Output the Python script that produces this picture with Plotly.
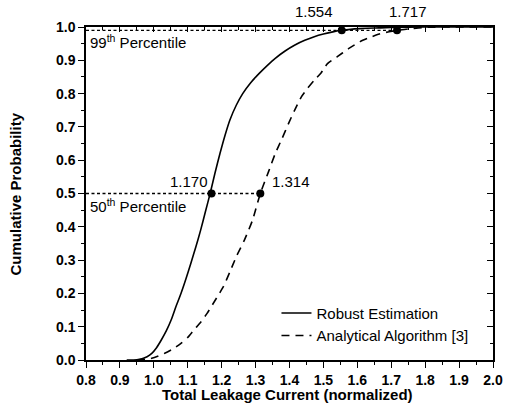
import plotly.graph_objects as go

# Robust Estimation (solid) CDF points
robust_x = [0.92, 0.95, 0.965, 0.98, 0.994, 1.008, 1.022, 1.037, 1.051, 1.065, 1.080, 1.095, 1.109, 1.124, 1.138, 1.152, 1.166,
            1.18, 1.195, 1.21, 1.224, 1.243, 1.262, 1.285, 1.310, 1.335, 1.358, 1.387, 1.416, 1.445, 1.473, 1.50, 1.531, 1.554,
            1.58, 1.608, 1.65, 1.70, 1.80, 1.90, 2.0]
robust_y = [0.0, 0.001, 0.004, 0.010, 0.020, 0.037, 0.060, 0.088, 0.120, 0.160, 0.200, 0.245, 0.290, 0.340, 0.390, 0.445, 0.50,
            0.56, 0.62, 0.675, 0.72, 0.765, 0.80, 0.832, 0.86, 0.885, 0.906, 0.928, 0.946, 0.960, 0.971, 0.979, 0.986, 0.990,
            0.993, 0.995, 0.997, 0.999, 1.0, 1.0, 1.0]

# Analytical Algorithm [3] (dashed)
anal_x = [0.95, 0.994, 1.032, 1.056, 1.080, 1.10, 1.118, 1.138, 1.157, 1.18, 1.205, 1.224, 1.243, 1.267, 1.291, 1.314,
          1.338, 1.358, 1.378, 1.397, 1.416, 1.435, 1.455, 1.473, 1.493, 1.512, 1.540, 1.574, 1.608, 1.635, 1.665, 1.690,
          1.717, 1.76, 1.80, 1.90, 2.0]
anal_y = [0.0, 0.005, 0.020, 0.033, 0.050, 0.068, 0.090, 0.113, 0.140, 0.178, 0.220, 0.264, 0.310, 0.360, 0.420, 0.50,
          0.565, 0.62, 0.665, 0.71, 0.752, 0.79, 0.818, 0.84, 0.862, 0.89, 0.91, 0.935, 0.956, 0.968, 0.979, 0.985,
          0.990, 0.995, 0.999, 1.0, 1.0]

pct_levels = [0.99, 0.5]
pct_robust = [1.554, 1.170]
pct_anal = [1.717, 1.314]
pct_labels = ["99<sup>th</sup> Percentile", "50<sup>th</sup> Percentile"]

x_ticks = [0.8, 0.9, 1.0, 1.1, 1.2, 1.3, 1.4, 1.5, 1.6, 1.7, 1.8, 1.9, 2.0]
y_ticks = [0.0, 0.1, 0.2, 0.3, 0.4, 0.5, 0.6, 0.7, 0.8, 0.9, 1.0]

FONT = "Liberation Sans, Arial, sans-serif"

fig = go.Figure()

# percentile guide lines
for lvl, xa in zip(pct_levels, pct_anal):
    fig.add_trace(go.Scatter(x=[0.8, xa], y=[lvl, lvl], mode="lines",
                             line=dict(color="black", width=1.3, dash="3px,2.5px"),
                             showlegend=False, hoverinfo="skip"))

fig.add_trace(go.Scatter(x=robust_x, y=robust_y, mode="lines", name="Robust Estimation",
                         line=dict(color="black", width=1.6, shape="spline", smoothing=0.6)))
fig.add_trace(go.Scatter(x=anal_x, y=anal_y, mode="lines", name="Analytical Algorithm [3]",
                         line=dict(color="black", width=1.6, dash="8px,6px", shape="spline", smoothing=0.6)))

# markers
fig.add_trace(go.Scatter(x=pct_robust + pct_anal, y=pct_levels + pct_levels, mode="markers",
                         marker=dict(color="black", size=8), showlegend=False, hoverinfo="skip"))

# value annotations
label_font = dict(family=FONT, size=15, color="black")
# top row (99th)
fig.add_annotation(x=pct_robust[0], y=pct_levels[0], text=f"{pct_robust[0]:.3f}", showarrow=False,
                   xanchor="center", yanchor="bottom", xshift=-28, yshift=8, font=label_font)
fig.add_annotation(x=pct_anal[0], y=pct_levels[0], text=f"{pct_anal[0]:.3f}", showarrow=False,
                   xanchor="center", yanchor="bottom", xshift=11, yshift=8, font=label_font)
# middle row (50th)
fig.add_annotation(x=pct_robust[1], y=pct_levels[1], text=f"{pct_robust[1]:.3f}", showarrow=False,
                   xanchor="right", yanchor="bottom", xshift=-1, yshift=2, font=label_font)
fig.add_annotation(x=pct_anal[1], y=pct_levels[1], text=f"{pct_anal[1]:.3f}", showarrow=False,
                   xanchor="left", yanchor="bottom", xshift=10, yshift=2, font=label_font)
for lbl, yv in zip(pct_labels, pct_levels):
    fig.add_annotation(x=0.8, y=yv, text=lbl, showarrow=False, xanchor="left", yanchor="top",
                       xshift=2, yshift=0, font=label_font)

# axis titles
fig.add_annotation(xref="paper", yref="paper", x=0.494, y=-0.105, text="<b>Total Leakage Current (normalized)</b>",
                   showarrow=False, xanchor="center", yanchor="middle", font=dict(family=FONT, size=15, color="black"))
fig.add_annotation(xref="paper", yref="paper", x=-0.172, y=0.5, text="<b>Cumulative Probability</b>", textangle=-90,
                   showarrow=False, xanchor="center", yanchor="middle", font=dict(family=FONT, size=15, color="black"))

axis_common = dict(showgrid=False, zeroline=False, showline=True, linecolor="black", linewidth=1.5,
                   tickcolor="black", tickwidth=1.3)

fig.update_layout(
    width=513, height=412,
    margin=dict(l=86, r=10, t=27, b=52),
    paper_bgcolor="white", plot_bgcolor="white",
    font=dict(family=FONT, color="black"),
    xaxis=dict(range=[0.8, 2.0], tickvals=x_ticks, ticktext=[f"{v:.1f}" for v in x_ticks], ticks="outside",
               ticklen=6, minor=dict(dtick=0.05, ticks="outside", ticklen=3, tickcolor="black", tickwidth=1.3),
               tickfont=dict(family=FONT, size=14, color="black", weight="bold"), **axis_common),
    yaxis=dict(range=[0.0, 1.0], tickvals=y_ticks, ticktext=[f"{v:.1f}" for v in y_ticks], ticks="outside",
               ticklen=6, minor=dict(dtick=0.05, ticks="outside", ticklen=3, tickcolor="black", tickwidth=1.3),
               tickfont=dict(family=FONT, size=14, color="black", weight="bold"), **axis_common),
    xaxis2=dict(range=[0.8, 2.0], overlaying="x", side="top", tickvals=x_ticks, showticklabels=False, ticks="inside",
                ticklen=5, minor=dict(dtick=0.05, ticks="inside", ticklen=3, tickcolor="black", tickwidth=1.3),
                **axis_common),
    yaxis2=dict(range=[0.0, 1.0], overlaying="y", side="right", tickvals=y_ticks, showticklabels=False, ticks="inside",
                ticklen=6, minor=dict(dtick=0.05, ticks="inside", ticklen=3, tickcolor="black", tickwidth=1.3),
                **axis_common),
    legend=dict(x=0.468, y=0.19, xanchor="left", yanchor="top", bgcolor="rgba(0,0,0,0)",
                font=dict(family=FONT, size=15, color="black"), tracegroupgap=0, itemwidth=30),
    showlegend=True,
)

# invisible trace to activate the secondary axes
fig.add_trace(go.Scatter(x=[0.8], y=[0.0], xaxis="x2", yaxis="y2", mode="markers",
                         marker=dict(opacity=0), showlegend=False, hoverinfo="skip"))

fig.write_html("out.html")
